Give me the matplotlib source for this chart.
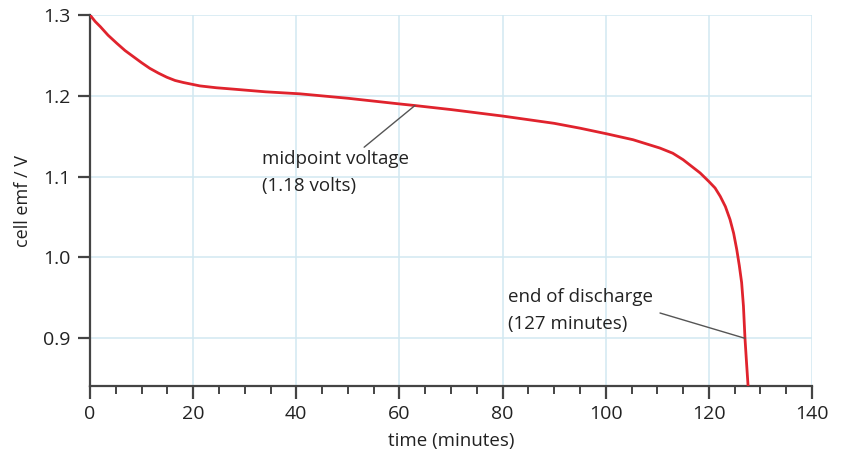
import numpy as np
import matplotlib.pyplot as plt
from matplotlib.ticker import MultipleLocator

plt.rcParams['font.family'] = ['Open Sans', 'DejaVu Sans']

# discharge curve
time_min = [0, 1, 2, 3.5, 5.2, 6.8, 8.4, 10, 11.6, 13.3, 14.9, 16.5, 18.1, 21.3,
            24.5, 27.8, 34, 40.7, 50, 60, 63, 70, 80, 90, 95, 100.2, 105.3,
            110.5, 113, 115, 118.3, 120, 121.2, 122.2, 123.2, 124.1, 124.8,
            125.4, 125.9, 126.35, 126.7, 127.0, 127.3, 127.6]
emf_v = [1.300, 1.292, 1.2856, 1.275, 1.265, 1.256, 1.2485, 1.241, 1.234, 1.228,
         1.223, 1.219, 1.2165, 1.2123, 1.210, 1.2083, 1.205, 1.2025, 1.197,
         1.190, 1.188, 1.183, 1.175, 1.166, 1.160, 1.153, 1.1457, 1.1354,
         1.129, 1.121, 1.1046, 1.094, 1.086, 1.0757, 1.063, 1.047, 1.030,
         1.010, 0.990, 0.969, 0.940, 0.900, 0.870, 0.841]

mid_point = (63, 1.188)
mid_text = (33.4, 1.133)
end_point = (127, 0.900)
end_text = (81, 0.962)

fig = plt.figure(figsize=(8.42, 4.65), dpi=100)
ax = fig.add_axes([0.1069, 0.1699, 0.8575, 0.7978])

grid_col = '#d2e8f1'
for x in range(20, 141, 20):
    ax.axvline(x, color=grid_col, lw=1.1, zorder=0)
for y in [0.9, 1.0, 1.1, 1.2, 1.3]:
    ax.axhline(y, color=grid_col, lw=1.1, zorder=0)

ax.plot(time_min, emf_v, color='#e0232d', lw=2, zorder=3, solid_joinstyle='round')

ax.set_xlim(0, 140)
ax.set_ylim(0.841, 1.3)
ax.set_xticks(range(0, 141, 20))
ax.xaxis.set_minor_locator(MultipleLocator(5))
ax.set_yticks([0.9, 1.0, 1.1, 1.2, 1.3])
ax.set_yticklabels(['0.9', '1.0', '1.1', '1.2', '1.3'])

for s in ['top', 'right']:
    ax.spines[s].set_visible(False)
for s in ['left', 'bottom']:
    ax.spines[s].set_color('#444444')
    ax.spines[s].set_linewidth(1.6)

ax.tick_params(axis='both', which='major', length=9, width=1.6, color='#444444',
               labelsize=14, labelcolor='#222222', pad=5)
ax.tick_params(axis='x', which='minor', length=6, width=1.4, color='#444444')

ax.set_xlabel('time (minutes)', fontsize=13.5, color='#222222', labelpad=6)
ax.set_ylabel('cell emf / V', fontsize=13, color='#222222', labelpad=8)

ax.annotate('midpoint voltage\n(1.18 volts)', xy=mid_point, xytext=mid_text,
            fontsize=13.5, color='#222222', va='top', ha='left', linespacing=1.65,
            arrowprops=dict(arrowstyle='-', color='#555555', lw=1,
                            shrinkA=0, shrinkB=0, relpos=(0.67, 1.0)))
ax.annotate('end of discharge\n(127 minutes)', xy=end_point, xytext=end_text,
            fontsize=13.5, color='#222222', va='top', ha='left', linespacing=1.65,
            arrowprops=dict(arrowstyle='-', color='#555555', lw=1,
                            shrinkA=0, shrinkB=0, relpos=(1.05, 0.45)))

fig.savefig('out.png', dpi=100)
